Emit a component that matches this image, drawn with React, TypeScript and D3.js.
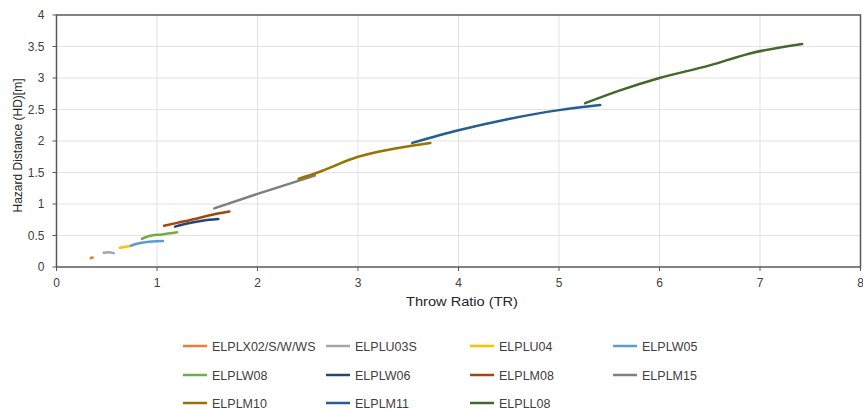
import React from "react";
import * as d3 from "d3";

const seriesNames = ["ELPLX02/S/W/WS","ELPLU03S","ELPLU04","ELPLW05","ELPLW08","ELPLW06","ELPLM08","ELPLM15","ELPLM10","ELPLM11","ELPLL08"];
const seriesColors = ["#ED7D31","#A5A5A5","#FFC000","#5B9BD5","#70AD47","#264478","#9E480E","#7F7F7F","#997300","#255E91","#43682B"];

const X02 = [[0.34,0.14],[0.36,0.15]];
const U03S = [[0.47,0.226],[0.52,0.235],[0.57,0.22]];
const U04 = [[0.63,0.305],[0.69,0.32],[0.75,0.34]];
const W05 = [[0.74,0.34],[0.8,0.37],[0.9,0.395],[1.0,0.41],[1.06,0.413]];
const W08 = [[0.85,0.445],[0.9,0.48],[0.95,0.5],[1.05,0.515],[1.2,0.55]];
const W06 = [[1.18,0.64],[1.3,0.69],[1.45,0.735],[1.61,0.76]];
const M08 = [[1.07,0.655],[1.2,0.7],[1.4,0.77],[1.55,0.83],[1.72,0.88]];
const M15 = [[1.57,0.93],[2.0,1.16],[2.57,1.45]];
const M10 = [[2.41,1.4],[2.6,1.5],[3.0,1.75],[3.4,1.89],[3.72,1.97]];
const M11 = [[3.54,1.97],[4.0,2.17],[4.5,2.35],[5.0,2.49],[5.41,2.57]];
const L08 = [[5.26,2.6],[5.6,2.8],[6.0,3.0],[6.5,3.2],[6.9,3.39],[7.42,3.54]];
const seriesData = [X02,U03S,U04,W05,W08,W06,M08,M15,M10,M11,L08];

const xTicks = [0,1,2,3,4,5,6,7,8];
const yTicks = [0,0.5,1,1.5,2,2.5,3,3.5,4];

const W = 863, H = 410;
const L = 56.5, R = 860.5, T = 15, B = 267;

export default function App() {
  const x = d3.scaleLinear().domain([0, 8]).range([L, R]);
  const y = d3.scaleLinear().domain([0, 4]).range([B, T]);
  const line = d3.line<number[]>().x(d => x(d[0])).y(d => y(d[1])).curve(d3.curveMonotoneX);
  const font = "'Liberation Sans', Arial, sans-serif";
  const legendCols = [183, 326, 470, 613];
  const legendRows = [346, 375, 403];
  return (
    <svg width={W} height={H} style={{ position: "absolute", left: 0, top: 0, background: "#fff" }} fontFamily={font}>
      <rect x={0} y={0} width={W} height={H} fill="#fff" />
      {yTicks.slice(1, -1).map(t => (
        <line key={"gy" + t} x1={L} x2={R} y1={y(t)} y2={y(t)} stroke="#E3E3E3" strokeWidth={1} />
      ))}
      {xTicks.slice(1, -1).map(t => (
        <line key={"gx" + t} x1={x(t)} x2={x(t)} y1={T} y2={B} stroke="#E3E3E3" strokeWidth={1} />
      ))}
      <rect x={L} y={T} width={R - L} height={B - T} fill="none" stroke="#595959" strokeWidth={1.5} />
      {xTicks.map(t => (
        <g key={"tx" + t}>
          <line x1={x(t)} x2={x(t)} y1={B} y2={B + 4} stroke="#595959" strokeWidth={1} />
          <text x={x(t)} y={B + 19.5} textAnchor="middle" fontSize={12} fill="#404040">{t}</text>
        </g>
      ))}
      {yTicks.map(t => (
        <g key={"ty" + t}>
          <line x1={L - 4} x2={L} y1={y(t)} y2={y(t)} stroke="#595959" strokeWidth={1} />
          <text x={L - 12} y={y(t) + 4} textAnchor="end" fontSize={12} fill="#404040">{t}</text>
        </g>
      ))}
      <text x={462} y={306} textAnchor="middle" fontSize={13} fill="#262626" textLength={112} lengthAdjust="spacingAndGlyphs">Throw Ratio (TR)</text>
      <text transform={`translate(22,145.5) rotate(-90)`} textAnchor="middle" fontSize={12} fill="#262626">Hazard Distance (HD)[m]</text>
      {seriesData.map((d, i) => (
        <path key={"s" + i} d={line(d as any) || ""} fill="none" stroke={seriesColors[i]} strokeWidth={2.5} strokeLinecap="round" />
      ))}
      {seriesNames.map((n, i) => {
        const cx = legendCols[i % 4];
        const cy = legendRows[Math.floor(i / 4)];
        return (
          <g key={"lg" + i}>
            <line x1={cx} x2={cx + 24} y1={cy} y2={cy} stroke={seriesColors[i]} strokeWidth={2.5} />
            <text x={cx + 29} y={cy + 4.5} fontSize={12.5} fill="#404040">{n}</text>
          </g>
        );
      })}
    </svg>
  );
}
